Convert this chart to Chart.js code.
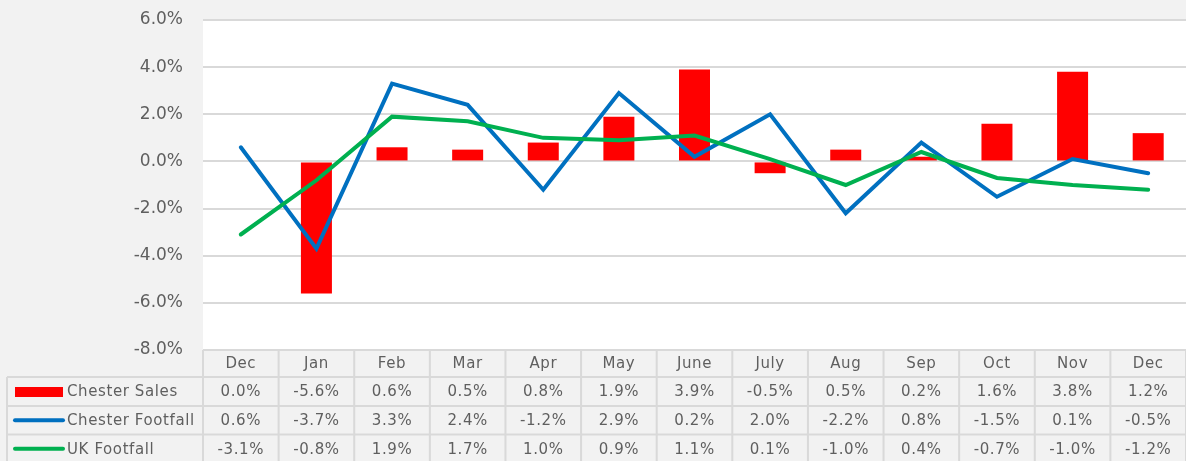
<!DOCTYPE html>
<html><head><meta charset="utf-8">
<script src="https://cdn.jsdelivr.net/npm/chart.js@4"></script>
<style>html,body{margin:0;padding:0;background:#f2f2f2;overflow:hidden;} canvas{display:block;}</style>
</head><body>
<canvas id="c" width="1186" height="461" style="width:1186px;height:461px"></canvas>
<script>
const categories = ['Dec','Jan','Feb','Mar','Apr','May','June','July','Aug','Sep','Oct','Nov','Dec'];
const chesterSales = [0.0,-5.6,0.6,0.5,0.8,1.9,3.9,-0.5,0.5,0.2,1.6,3.8,1.2];
const chesterFootfall = [0.6,-3.7,3.3,2.4,-1.2,2.9,0.2,2.0,-2.2,0.8,-1.5,0.1,-0.5];
const ukFootfall = [-3.1,-0.8,1.9,1.7,1.0,0.9,1.1,0.1,-1.0,0.4,-0.7,-1.0,-1.2];
const seriesNames = ['Chester Sales','Chester Footfall','UK Footfall'];
const yMin = -8, yMax = 6, yStep = 2;

const TEXT = '#5f5f5f';
const FONT = '"DejaVu Sans", sans-serif';
const colors = ['#ff0000','#0070c0','#00b050'];
const fmt = v => v.toFixed(1) + '%';

const tablePlugin = {
  id: 'dataTable',
  beforeDraw(chart) {
    const {ctx, chartArea: a} = chart;
    ctx.save();
    ctx.fillStyle = '#ffffff';
    ctx.fillRect(a.left, a.top - 1, a.right - a.left, a.bottom - a.top + 1);
    ctx.restore();
  },
  afterDraw(chart) {
    const {ctx, chartArea: a} = chart;
    const xs = chart.scales.x;
    const n = categories.length;
    const w = (a.right - a.left) / n;
    const top = a.bottom;
    const rows = [top, top + 27, top + 56, top + 84.5, top + 113];
    const leftX = 7;
    const series = [chesterSales, chesterFootfall, ukFootfall];
    ctx.save();
    ctx.strokeStyle = '#d9d9d9';
    ctx.lineWidth = 2;
    ctx.beginPath();
    ctx.moveTo(a.left, rows[0]); ctx.lineTo(a.right, rows[0]);
    for (let r = 1; r < rows.length; r++) {
      ctx.moveTo(leftX, rows[r]); ctx.lineTo(a.right, rows[r]);
    }
    for (let i = 0; i <= n; i++) {
      const x = a.left + i * w;
      ctx.moveTo(x, rows[0]); ctx.lineTo(x, rows[4]);
    }
    ctx.moveTo(leftX, rows[1]); ctx.lineTo(leftX, rows[4]);
    ctx.stroke();

    ctx.fillStyle = TEXT;
    ctx.font = '15px ' + FONT;
    if ('letterSpacing' in ctx) ctx.letterSpacing = '0.6px';
    ctx.textAlign = 'center';
    ctx.textBaseline = 'middle';
    for (let i = 0; i < n; i++) {
      const cx = xs.getPixelForValue(i);
      ctx.fillText(categories[i], cx, (rows[0] + rows[1]) / 2 + 1);
      for (let s = 0; s < 3; s++) {
        ctx.fillText(fmt(series[s][i]), cx, (rows[s + 1] + rows[s + 2]) / 2 + 1);
      }
    }
    ctx.textAlign = 'left';
    for (let s = 0; s < 3; s++) {
      const cy = (rows[s + 1] + rows[s + 2]) / 2;
      if (s === 0) {
        ctx.fillStyle = colors[0];
        ctx.fillRect(15, cy - 4.5, 48, 10);
      } else {
        ctx.strokeStyle = colors[s];
        ctx.lineWidth = 4;
        ctx.lineCap = 'round';
        ctx.beginPath();
        ctx.moveTo(15, cy); ctx.lineTo(63, cy);
        ctx.stroke();
      }
      ctx.fillStyle = TEXT;
      ctx.fillText(seriesNames[s], 67, cy + 1);
    }
    ctx.restore();
  }
};

new Chart(document.getElementById('c'), {
  type: 'bar',
  data: {
    labels: categories,
    datasets: [
      { type: 'bar', label: seriesNames[0], data: chesterSales, backgroundColor: colors[0],
        barPercentage: 0.41, categoryPercentage: 1, order: 3 },
      { type: 'line', label: seriesNames[1], data: chesterFootfall, borderColor: colors[1],
        borderWidth: 4, pointRadius: 0, tension: 0, borderCapStyle: 'round', borderJoinStyle: 'miter', order: 2 },
      { type: 'line', label: seriesNames[2], data: ukFootfall, borderColor: colors[2],
        borderWidth: 4, pointRadius: 0, tension: 0, borderCapStyle: 'round', borderJoinStyle: 'miter', order: 1 }
    ]
  },
  options: {
    responsive: false,
    animation: false,
    devicePixelRatio: 1,
    layout: { padding: { top: 20, bottom: 111, left: 0, right: 0 } },
    plugins: { legend: { display: false }, tooltip: { enabled: false } },
    scales: {
      x: { display: false, offset: true },
      y: {
        min: yMin, max: yMax,
        afterFit(scale) { scale.width = 203; scale.paddingTop = 0; scale.paddingBottom = 0; },
        border: { display: false },
        grid: { color: '#d9d9d9', lineWidth: 2, drawTicks: false },
        ticks: { stepSize: yStep, padding: 20, color: TEXT, font: { family: FONT, size: 17 },
          callback: v => fmt(v) }
      }
    }
  },
  plugins: [tablePlugin]
});
</script>
</body></html>
